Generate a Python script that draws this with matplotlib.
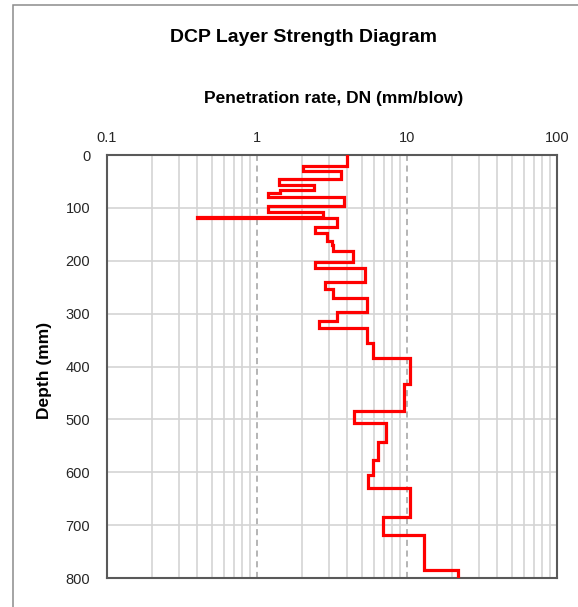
import matplotlib
matplotlib.use("Agg")
import matplotlib.pyplot as plt
from matplotlib.patches import Rectangle
from matplotlib.ticker import LogLocator, FixedLocator, NullFormatter

plt.rcParams['font.family'] = ['Liberation Sans', 'DejaVu Sans']

# Data: layer top depths (mm) and penetration rate DN (mm/blow)
depth_top = [0, 20, 30, 46, 57, 66, 72, 80, 96, 107, 118, 120, 136, 148, 162, 170,
             181, 203, 214, 240, 254, 271, 296, 314, 328, 355, 384, 433, 485, 507,
             543, 577, 605, 630, 684, 718, 784]
dn = [4.0, 2.04, 3.61, 1.41, 2.40, 1.43, 1.19, 3.80, 1.19, 2.77, 0.40, 3.40, 2.44,
      2.94, 3.15, 3.23, 4.39, 2.44, 5.25, 2.84, 3.23, 5.39, 3.40, 2.61, 5.39, 5.93,
      10.5, 9.6, 4.43, 7.24, 6.44, 5.91, 5.47, 10.5, 6.95, 13.0, 22.0]
max_depth = 800

x_ticks = [0.1, 1, 10, 100]
x_tick_labels = ["0.1", "1", "10", "100"]
y_ticks = [0, 100, 200, 300, 400, 500, 600, 700, 800]

title = "DCP Layer Strength Diagram"
x_label = "Penetration rate, DN (mm/blow)"
y_label = "Depth (mm)"

W, H = 578, 607
fig = plt.figure(figsize=(W / 100, H / 100), dpi=100)
fig.patch.set_facecolor('white')

# figure border (chart area frame, cropped at right/bottom)
fig.patches.append(Rectangle((13 / W, -0.1), 2.0, 1 - 5 / H + 0.1,
                             transform=fig.transFigure, fill=False,
                             edgecolor='#8c8c8c', linewidth=1.1))

ax = fig.add_axes([107 / W, 1 - 578 / H, 450 / W, 423 / H])
ax.set_xscale('log')
ax.set_xlim(0.1, 100)
ax.set_ylim(max_depth, 0)

# build step path
xs, ys = [], []
bottoms = depth_top[1:] + [max_depth]
for v, d0, d1 in zip(dn, depth_top, bottoms):
    xs += [v, v]
    ys += [d0, d1]
ax.plot(xs, ys, color='#ff0000', linewidth=2.3, solid_joinstyle='miter', zorder=5)

# grid
ax.xaxis.set_major_locator(FixedLocator(x_ticks))
ax.xaxis.set_minor_locator(LogLocator(base=10, subs=range(2, 10)))
ax.xaxis.set_minor_formatter(NullFormatter())
ax.set_xticklabels(x_tick_labels)
ax.set_yticks(y_ticks)
ax.grid(which='minor', axis='x', color='#d4d4d4', linewidth=1.2, linestyle='-')
ax.grid(which='major', axis='x', color='#a0a0a0', linewidth=1.1, linestyle=(0, (4, 3)))
ax.grid(which='major', axis='y', color='#d4d4d4', linewidth=1.2, linestyle='-')
ax.set_axisbelow(True)

ax.xaxis.tick_top()
ax.tick_params(axis='x', which='both', length=0, pad=7, labelsize=10.5, labelcolor='#262626')
ax.tick_params(axis='y', which='both', length=0, pad=12, labelsize=10.5, labelcolor='#262626')

for s in ax.spines.values():
    s.set_color('#595959')
    s.set_linewidth(1.5)

fig.text(303 / W, 1 - 38 / H, title, ha='center', va='center',
         fontsize=14, fontweight='bold', color='#000000')
fig.text(333.5 / W, 1 - 98 / H, x_label, ha='center', va='center',
         fontsize=12.5, fontweight='bold', color='#000000')
fig.text(45 / W, 1 - 370 / H, y_label, ha='center', va='center', rotation=90,
         fontsize=12.5, fontweight='bold', color='#000000')

fig.savefig('out.png', dpi=100, facecolor='white')
